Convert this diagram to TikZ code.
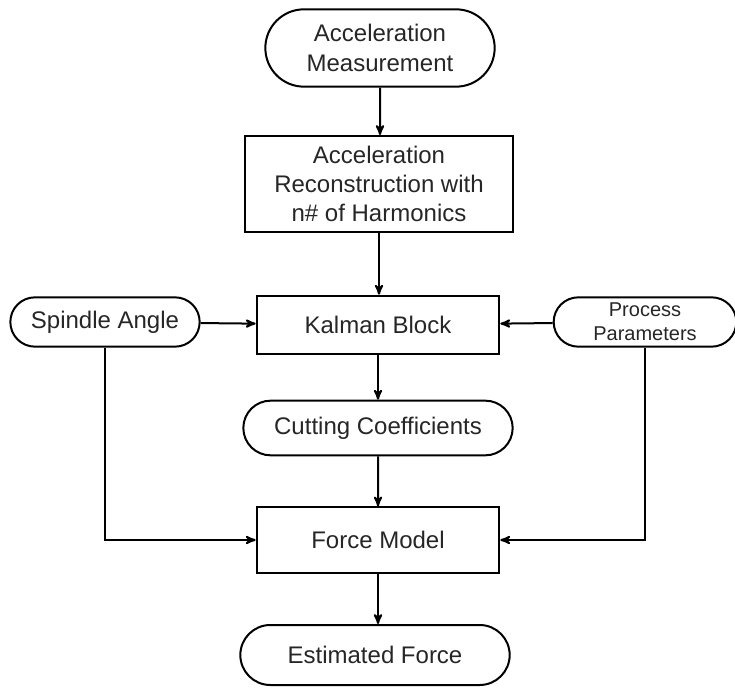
\documentclass[tikz,border=0pt]{standalone}
\usepackage{fontspec}
\setmainfont{Liberation Sans}
\usepackage{tikz}
\usetikzlibrary{arrows}
\usetikzlibrary{shapes.misc}
\tikzset{
  blockbox/.style={draw, line width=1.5pt, rectangle, align=center, inner sep=0pt, text=black!85, font=\fontsize{18}{22}\selectfont},
  termbox/.style={draw, line width=1.5pt, rounded rectangle, align=center, inner sep=0pt, text=black!85, font=\fontsize{18}{22}\selectfont},
  flow/.style={black, line width=1.5pt, ->, >=stealth'}
}

\begin{document}
\begin{tikzpicture}[x=0.75pt, y=-0.75pt]
\useasboundingbox (0,0) rectangle (735,691);
% boxes down the middle
\node[termbox, minimum width=172pt, minimum height=58pt] (meas) at (380,48) {Acceleration\\Measurement};
\node[blockbox, minimum width=201pt, minimum height=72pt] (recon) at (379,184) {Acceleration\\Reconstruction with\\n\# of Harmonics};
\node[blockbox, minimum width=182pt, minimum height=44pt] (kalman) at (378,325) {Kalman Block};
\node[termbox, minimum width=202pt, minimum height=41pt] (coeff) at (378,428) {Cutting Coefficients};
\node[blockbox, minimum width=182pt, minimum height=49pt] (force) at (378,540) {Force Model};
\node[termbox, minimum width=202pt, minimum height=45pt] (estim) at (375,655) {Estimated Force};
% side inputs
\node[termbox, minimum width=142pt, minimum height=37pt] (spindle) at (105,322) {Spindle Angle};
\node[termbox, minimum width=137pt, minimum height=37pt, font=\fontsize{15}{18}\selectfont] (process) at (645,322) {Process\\Parameters};

\draw[flow] (meas) -- (meas|-recon.north);
\draw[flow] (recon) -- (recon|-kalman.north);
\draw[flow] (kalman) -- (kalman|-coeff.north);
\draw[flow] (coeff) -- (coeff|-force.north);
\draw[flow] (force) -- (force|-estim.north);
\draw[flow] (spindle) -- (kalman);
\draw[flow] (process) -- (kalman);
\draw[flow] (spindle) |- (force);
\draw[flow] (process) |- (force);
\end{tikzpicture}
\end{document}
